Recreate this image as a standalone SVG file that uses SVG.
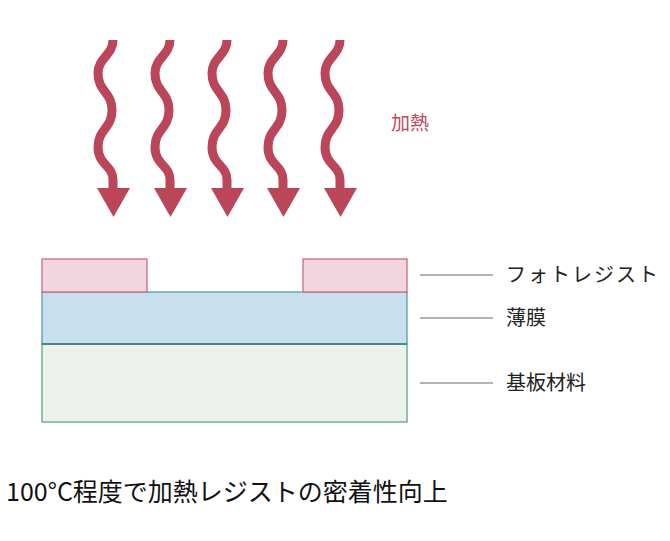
<svg xmlns="http://www.w3.org/2000/svg" width="670" height="541" viewBox="0 0 670 541">
<defs>
<style>
.wave{fill:none;stroke:#bb4559;stroke-width:9}
.head{fill:#bb4559}
.lead{stroke:#9a9a9a;stroke-width:1.3}
.lbl{font-family:"Noto Sans CJK JP","Noto Sans",sans-serif;font-size:20px;fill:#222}
</style>
<g id="arrowShape">
<path class="wave" d="M113,40 C113,55 98,58 98,73 C98,92 112,92 112,110 C112,129 98,129 98,147 C98,165 113,165 113,180 L113,192"/>
<polygon class="head" points="97,188 130,188 113.5,217"/>
</g>
</defs>
<rect width="670" height="541" fill="#ffffff"/>
<g id="heat">
<use href="#arrowShape"/>
<use href="#arrowShape" x="57"/>
<use href="#arrowShape" x="114"/>
<use href="#arrowShape" x="170"/>
<use href="#arrowShape" x="227"/>
<text x="391" y="130" style="font-family:'Noto Sans CJK JP','Noto Sans',sans-serif;font-size:19px;fill:#c04a60">加熱</text>
</g>
<g id="substrate">
<rect x="42" y="344" width="365" height="78" fill="#edf3ec" stroke="#5fa57a" stroke-width="1.3"/>
</g>
<g id="film">
<rect x="42" y="292" width="365" height="52" fill="#c8e0ee" stroke="#5a97b0" stroke-width="1.3"/>
<line x1="42" y1="344" x2="407" y2="344" stroke="#3f7a80" stroke-width="1.3"/>
</g>
<g id="resist-left">
<rect x="42" y="259" width="105" height="33" fill="#f2d6df" stroke="#d06a7a" stroke-width="1.3"/>
</g>
<g id="resist-right">
<rect x="303" y="259" width="104" height="33" fill="#f2d6df" stroke="#d06a7a" stroke-width="1.3"/>
</g>
<g id="connectors">
<line class="lead" x1="420" y1="275" x2="493" y2="275"/>
<line class="lead" x1="420" y1="318" x2="493" y2="318"/>
<line class="lead" x1="420" y1="383" x2="493" y2="383"/>
</g>
<g id="labels">
<text class="lbl" x="506" y="282" letter-spacing="2">フォトレジスト</text>
<text class="lbl" x="506" y="325">薄膜</text>
<text class="lbl" x="506" y="390" font-size="21">基板材料</text>
</g>
<g id="caption">
<text x="6" y="501" style="font-family:'Noto Sans CJK JP','Noto Sans',sans-serif;font-size:25px;fill:#111">100°C程度で加熱レジストの密着性向上</text>
</g>
</svg>
